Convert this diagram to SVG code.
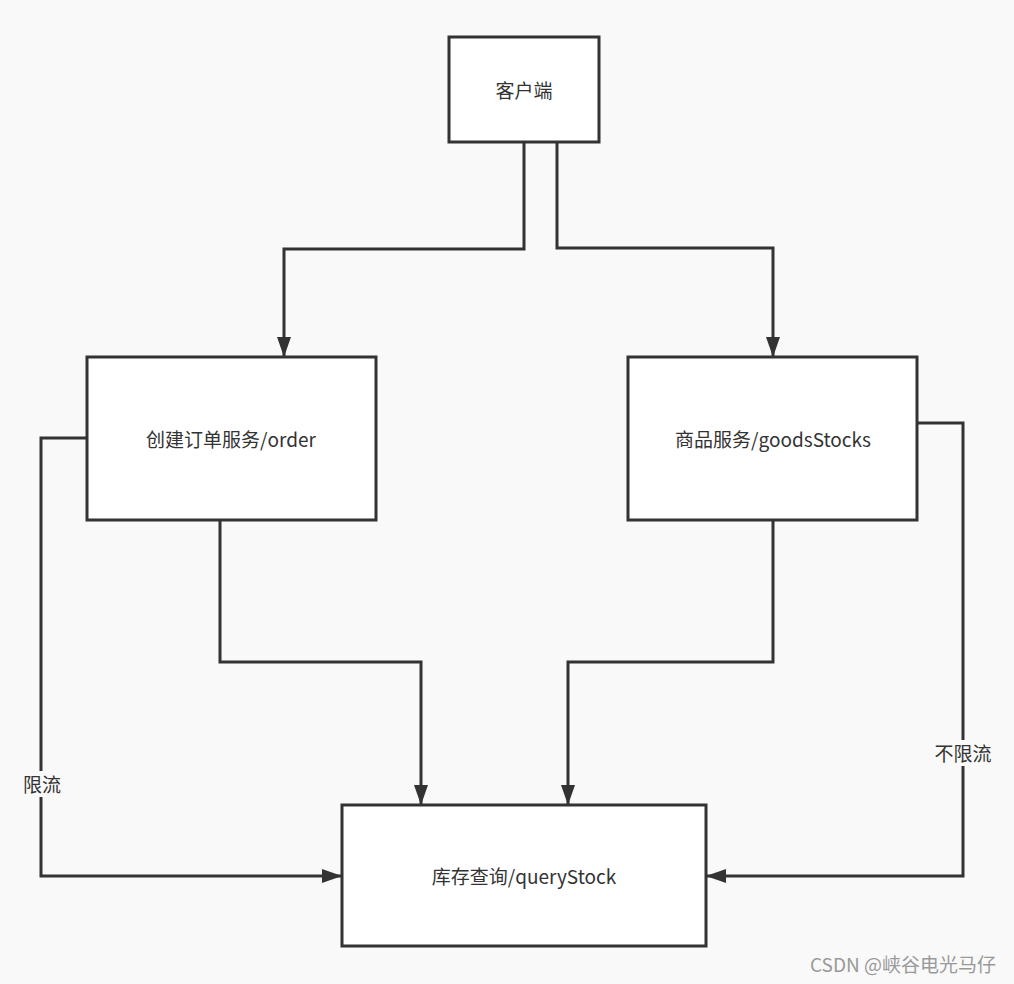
<svg xmlns="http://www.w3.org/2000/svg" width="1014" height="984" viewBox="0 0 1014 984">
<style>
.box{fill:#fff;stroke:#333;stroke-width:3}
.t{font-family:"Noto Sans CJK SC","Noto Sans",sans-serif;font-size:19px;fill:#333;text-anchor:middle;dominant-baseline:central}
.c{fill:none;stroke:#333;stroke-width:3}
.lbl{font-family:"Noto Sans CJK SC","Noto Sans",sans-serif;font-size:19px;fill:#333;text-anchor:middle;dominant-baseline:central}
</style>
<defs>
<marker id="a" viewBox="0 0 20 14" refX="20" refY="7" markerWidth="20" markerHeight="14" markerUnits="userSpaceOnUse" orient="auto">
<path d="M0,0 L20,7 L0,14 Z" fill="#333"/>
</marker>
</defs>
<rect width="1014" height="984" fill="#f9f9f9"/>
<g id="connectors">
<path class="c" d="M524,142 V249 H284 V357" marker-end="url(#a)"/>
<path class="c" d="M557,142 V248 H773 V357" marker-end="url(#a)"/>
<path class="c" d="M220,520 V662 H421 V805" marker-end="url(#a)"/>
<path class="c" d="M773,520 V662 H568 V805" marker-end="url(#a)"/>
<path class="c" d="M87,438 H41 V876 H342" marker-end="url(#a)"/>
<path class="c" d="M917,423 H963 V876 H706" marker-end="url(#a)"/>
<rect x="22" y="771" width="42" height="26" fill="#f9f9f9"/>
<text class="lbl" x="42" y="783">限流</text>
<rect x="933" y="740" width="60" height="26" fill="#f9f9f9"/>
<text class="lbl" x="963" y="752">不限流</text>
</g>
<g id="client">
<rect class="box" x="449" y="37" width="150" height="105"/>
<text class="t" x="524" y="89">客户端</text>
</g>
<g id="order">
<rect class="box" x="87" y="357" width="289" height="163"/>
<text class="t" x="231" y="438">创建订单服务/order</text>
</g>
<g id="goods">
<rect class="box" x="628" y="357" width="289" height="163"/>
<text class="t" x="773" y="438">商品服务/goodsStocks</text>
</g>
<g id="query">
<rect class="box" x="342" y="805" width="364" height="141"/>
<text class="t" x="524" y="875">库存查询/queryStock</text>
</g>
<text x="903" y="963" font-family="'Noto Sans CJK SC','Noto Sans',sans-serif" font-size="19" fill="#999" text-anchor="middle" dominant-baseline="central">CSDN @峡谷电光马仔</text>
</svg>
